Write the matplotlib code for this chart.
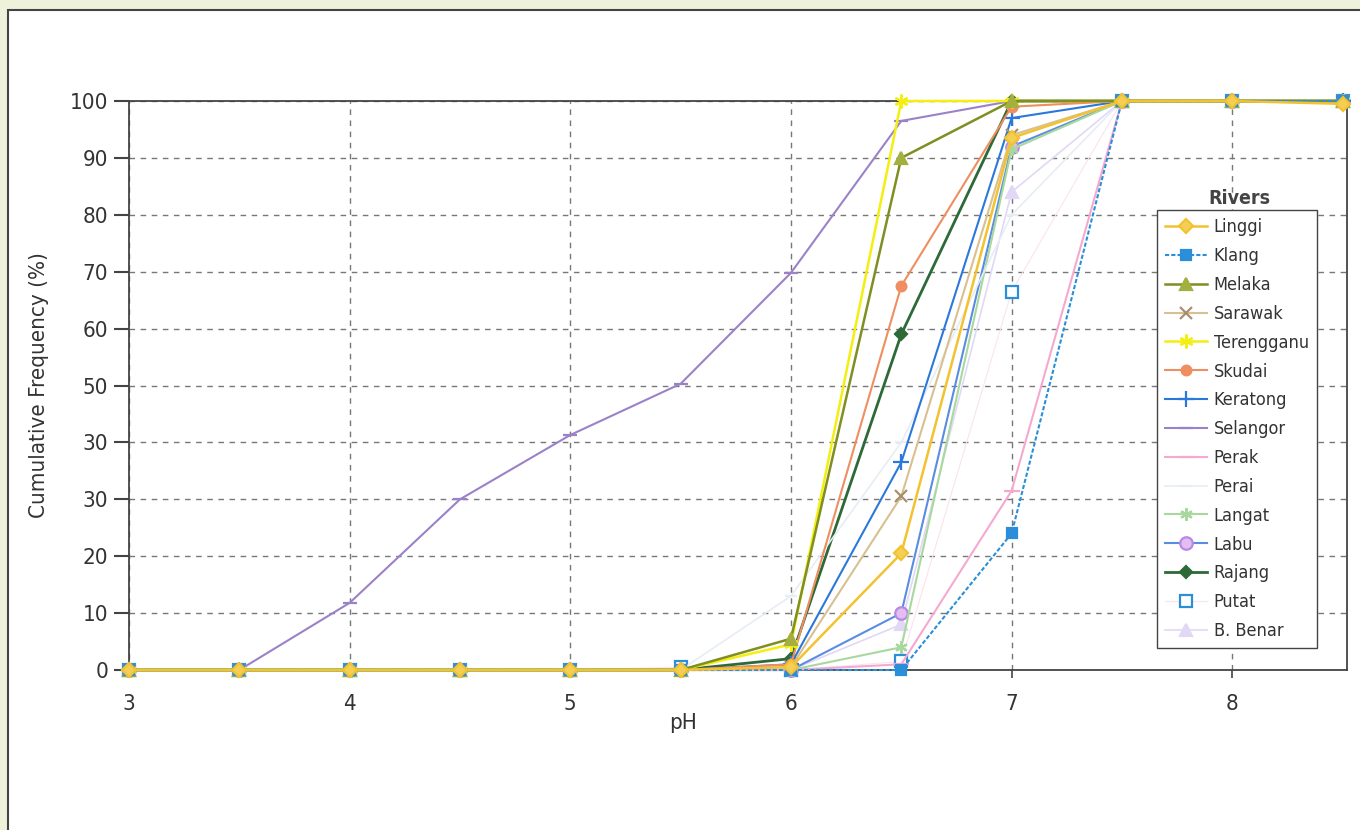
import matplotlib
matplotlib.use("Agg")
import matplotlib.pyplot as plt
from matplotlib.patches import Rectangle

plt.rcParams['font.family'] = ['Liberation Sans Narrow', 'DejaVu Sans']
plt.rcParams['font.stretch'] = 'condensed'

ph = [3, 3.5, 4, 4.5, 5, 5.5, 6, 6.5, 7, 7.5, 8, 8.5]

linggi     = [0, 0, 0, 0, 0, 0, 0.5, 20.5, 93.5, 100, 100, 99.5]
klang      = [0, 0, 0, 0, 0, 0, 0, 0, 24, 100, 100, 100]
melaka     = [0, 0, 0, 0, 0, 0, 5.5, 90, 100, 100, 100, 100]
sarawak    = [0, 0, 0, 0, 0, 0, 0.5, 30.5, 94, 100, 100, 100]
terengganu = [0, 0, 0, 0, 0, 0, 4.5, 100, 100, 100, 100, 100]
skudai     = [0, 0, 0, 0, 0, 0, 1, 67.5, 99, 100, 100, 100]
keratong   = [0, 0, 0, 0, 0, 0, 1, 36.5, 97, 100, 100, 100]
selangor   = [0, 0, 11.8, 30, 41.3, 50.3, 69.8, 96.5, 100, 100, 100, 100]
perak      = [0, 0, 0, 0, 0, 0, 0, 1, 31.5, 100, 100, 100]
perai      = [0, 0, 0, 0, 0, 0, 13, 40, 80, 100, 100, 100]
langat     = [0, 0, 0, 0, 0, 0, 0, 4, 91.5, 100, 100, 100]
labu       = [0, 0, 0, 0, 0, 0, 0, 10, 92, 100, 100, 100]
rajang     = [0, 0, 0, 0, 0, 0, 2, 59, 100, 100, 100, 100]
putat      = [0, 0, 0, 0, 0, 0.5, 0, 1.5, 66.5, 100, 100, 100]
b_benar    = [0, 0, 0, 0, 0, 0, 0, 8, 84, 100, 100, 100]

rivers = ["Linggi", "Klang", "Melaka", "Sarawak", "Terengganu", "Skudai", "Keratong",
          "Selangor", "Perak", "Perai", "Langat", "Labu", "Rajang", "Putat", "B. Benar"]
y_ticks = [0, 10, 20, 30, 40, 50, 60, 70, 80, 90, 100]
y_tick_labels = ["0", "10", "20", "30", "30", "50", "60", "70", "80", "90", "100"]
x_ticks = [3, 4, 5, 6, 7, 8]

asterisk = (6, 2, 0)
styles = [
    # color, linestyle, marker, mfc, mec, ms, lw
    ('#f2c230', '-', 'D', '#f5cf55', '#f2c230', 7, 1.8),   # Linggi
    ('#2a8fd8', (0, (2, 1)), 's', '#2a8fd8', '#2a8fd8', 7, 1.5),   # Klang
    ('#7f8f22', '-', '^', '#a3b040', '#a3b040', 8, 1.8),   # Melaka
    ('#d8c090', '-', 'x', '#a89070', '#a89070', 8, 1.5),   # Sarawak
    ('#f4ef10', '-', asterisk, '#f4ef10', '#f4ef10', 10, 1.8),  # Terengganu
    ('#ef8e60', '-', 'o', '#ef8e60', '#ef8e60', 7, 1.5),   # Skudai
    ('#2b78dc', '-', '+', '#2b78dc', '#2b78dc', 12, 1.5),  # Keratong
    ('#9b82c8', '-', '_', '#9b82c8', '#9b82c8', 10, 1.5),  # Selangor
    ('#f6a9d0', '-', '_', '#f6a9d0', '#f6a9d0', 12, 1.5),  # Perak
    ('#e6edf5', '-', '_', '#e6edf5', '#e6edf5', 8, 1.2),   # Perai
    ('#a9d89f', '-', asterisk, '#a9d89f', '#a9d89f', 9, 1.5),  # Langat
    ('#5a8ce2', '-', 'o', '#e6bdf2', '#b58ae6', 9, 1.5),   # Labu
    ('#2d6a38', '-', 'D', '#2d6a38', '#2d6a38', 6, 2.0),   # Rajang
    ('#fbe3ee', '-', 's', 'white', '#2a8fd8', 9, 0.8),     # Putat
    ('#e1d8f5', '-', '^', '#e1d8f5', '#e1d8f5', 8, 1.2),   # B. Benar
]
series = [linggi, klang, melaka, sarawak, terengganu, skudai, keratong,
          selangor, perak, perai, langat, labu, rajang, putat, b_benar]

W, H = 1360, 830
fig = plt.figure(figsize=(W / 100, H / 100), dpi=100, facecolor='#eef2da')
frame = Rectangle((8 / W, -0.05), 1.1, 1 - 10 / H + 0.05, transform=fig.transFigure,
                  facecolor='white', edgecolor='#444444', linewidth=1.5, zorder=-5)
fig.add_artist(frame)

ax = fig.add_axes([129 / W, 1 - 670 / H, (1347 - 129) / W, (670 - 101) / H])
ax.set_zorder(2)
ax.set_facecolor('white')

handles = [None] * len(series)
for i in list(range(len(series)))[::-1]:
    c, ls, m, mfc, mec, ms, lw = styles[i]
    ln, = ax.plot(ph, series[i], color=c, linestyle=ls, linewidth=lw, marker=m,
                  markerfacecolor=mfc, markeredgecolor=mec, markersize=ms,
                  markeredgewidth=1.6, clip_on=False, label=rivers[i],
                  zorder=3 + (len(series) - i) * 0.01)
    handles[i] = ln

ax.set_xlim(3, 8.52)
ax.set_ylim(0, 100)
ax.set_yticks(y_ticks)
ax.set_yticklabels(y_tick_labels)
ax.set_xticks(x_ticks)
ax.tick_params(axis='y', direction='out', length=11, width=1.5, color='#444444',
               labelsize=16, pad=4, labelcolor='#333333')
ax.tick_params(axis='x', direction='out', length=6, width=1.2, color='#444444',
               labelsize=16, pad=11, labelcolor='#333333')
ax.grid(True, color='#777777', linestyle=(0, (4, 4)), linewidth=1.0)
ax.set_axisbelow(True)
for s in ax.spines.values():
    s.set_color('#444444')
    s.set_linewidth(1.3)

ax.set_xlabel("pH", fontsize=16, color='#333333')
ax.xaxis.set_label_coords(0.455, -0.075)
ax.set_ylabel("Cumulative Frequency (%)", fontsize=16, color='#333333')
ax.yaxis.set_label_coords(-0.066, 0.5)

leg = ax.legend(handles=handles, loc='upper left', bbox_to_anchor=(0.844, 0.808),
                borderaxespad=0, fontsize=13, frameon=True, fancybox=False,
                edgecolor='#444444', framealpha=1, labelspacing=0.6,
                handlelength=2.3, handletextpad=0.4, borderpad=0.45)
leg.get_frame().set_linewidth(1.0)
for t in leg.get_texts():
    t.set_color('#333333')
leg.set_zorder(10)
ax.text(0.912, 0.812, "Rivers", transform=ax.transAxes, ha='center', va='bottom',
        fontsize=14, fontweight='bold', color='#444444')

fig.savefig("out.png", dpi=100, facecolor=fig.get_facecolor())
